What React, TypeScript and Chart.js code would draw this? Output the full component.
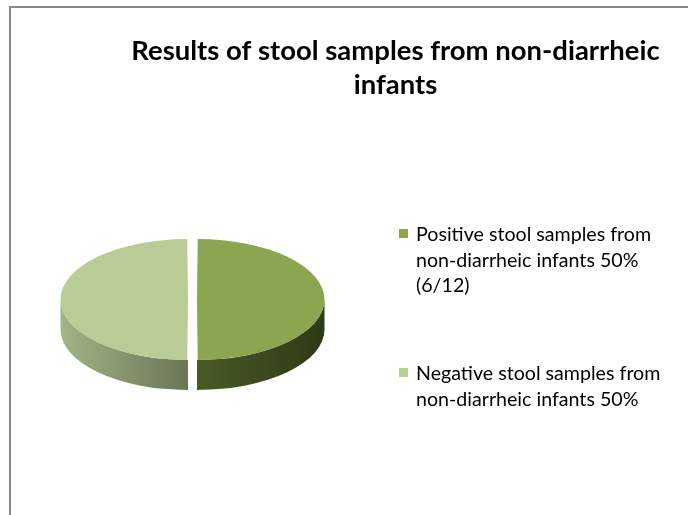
import React, { useEffect, useRef } from "react";
import { Chart, registerables } from "chart.js";

Chart.register(...registerables);

const TITLE = "Results of stool samples from non-diarrheic infants";
const CATEGORIES = [
  "Positive stool samples from non-diarrheic infants 50% (6/12)",
  "Negative stool samples from non-diarrheic infants 50%",
];
const COUNTS = [6, 6];
const TOP_COLORS = ["#8ba550", "#b9cc96"];
const WALL_COLORS = [
  ["#4a5a27", "#2e3a16"],
  ["#a3b487", "#6a7555"],
];

const FONT = "Lato, 'Open Sans', sans-serif";
const TILT = 0.4745;
const DEPTH = 30;
const PIE_CY = 299.5;

function wrap(ctx: CanvasRenderingContext2D, text: string, maxW: number): string[] {
  const words = text.split(" ");
  const lines: string[] = [];
  let cur = "";
  for (const w of words) {
    const t = cur ? cur + " " + w : w;
    if (cur && ctx.measureText(t).width > maxW) {
      lines.push(cur);
      cur = w;
    } else cur = t;
  }
  if (cur) lines.push(cur);
  return lines;
}

function fitSize(ctx: CanvasRenderingContext2D, text: string, weight: string, target: number) {
  ctx.font = `${weight} 20px ${FONT}`;
  const w = ctx.measureText(text).width;
  return (20 * target) / w;
}

const framePlugin = {
  id: "frame",
  beforeDraw(chart: any) {
    const ctx = chart.ctx as CanvasRenderingContext2D;
    ctx.save();
    ctx.fillStyle = "#ffffff";
    ctx.fillRect(0, 0, chart.width, chart.height);
    ctx.fillStyle = "#8a8a8a";
    ctx.fillRect(9, 6, chart.width - 9, 2);
    ctx.fillRect(9, 6, 2, chart.height - 6);
    ctx.restore();
  },
};

const pie3dPlugin = {
  id: "pie3d",
  beforeDatasetsDraw(chart: any) {
    const ctx = chart.ctx as CanvasRenderingContext2D;
    const meta = chart.getDatasetMeta(0);
    const cy = (chart.chartArea.top + chart.chartArea.bottom) / 2;
    meta.data.forEach((arc: any, i: number) => {
      const p = arc.getProps(["x", "y", "startAngle", "endAngle", "outerRadius", "circumference"], true);
      const off = (arc.options.offset || 0) / 4;
      const fix = 1 - Math.sin(Math.min(Math.PI, p.circumference || 0));
      const mid = (p.startAngle + p.endAngle) / 2;
      const sx = p.x + Math.cos(mid) * off;
      const sy = PIE_CY + (p.y + Math.sin(mid) * off - cy) * TILT;
      const rx = p.outerRadius + off * fix;
      const ry = rx * TILT;
      for (let k = -1; k <= 1; k++) {
        const lo = Math.max(p.startAngle, 2 * Math.PI * k);
        const hi = Math.min(p.endAngle, 2 * Math.PI * k + Math.PI);
        if (hi <= lo) continue;
        const cs = [Math.cos(lo), Math.cos(hi)];
        if (lo <= 2 * Math.PI * k + Math.PI && hi >= 2 * Math.PI * k + Math.PI) cs.push(-1);
        if (lo <= 2 * Math.PI * k && hi >= 2 * Math.PI * k) cs.push(1);
        const x0 = sx + rx * Math.min(...cs);
        const x1 = sx + rx * Math.max(...cs);
        const g = ctx.createLinearGradient(x0, 0, x1, 0);
        g.addColorStop(0, WALL_COLORS[i][0]);
        g.addColorStop(1, WALL_COLORS[i][1]);
        ctx.save();
        ctx.beginPath();
        ctx.ellipse(sx, sy, rx, ry, 0, lo, hi, false);
        ctx.ellipse(sx, sy + DEPTH, rx, ry, 0, hi, lo, true);
        ctx.closePath();
        ctx.fillStyle = g;
        ctx.fill();
        ctx.restore();
      }
    });
    ctx.save();
    ctx.translate(0, PIE_CY);
    ctx.scale(1, TILT);
    ctx.translate(0, -cy);
  },
  afterDatasetsDraw(chart: any) {
    chart.ctx.restore();
  },
};

const textPlugin = {
  id: "texts",
  afterDraw(chart: any) {
    const ctx = chart.ctx as CanvasRenderingContext2D;
    ctx.save();
    ctx.fillStyle = "#000000";
    ctx.textBaseline = "alphabetic";
    // title
    const ts = fitSize(ctx, TITLE, "bold", 619);
    ctx.font = `bold ${ts}px ${FONT}`;
    ctx.textAlign = "center";
    const tl = wrap(ctx, TITLE, 560);
    tl.forEach((l, j) => ctx.fillText(l, 395.5, 59.5 + j * 34));
    // legend
    const ls = fitSize(ctx, CATEGORIES[1], "normal", 472);
    ctx.font = `normal ${ls}px ${FONT}`;
    ctx.textAlign = "left";
    const colors = chart.data.datasets[0].backgroundColor as string[];
    const firstBase = [241, 380];
    CATEGORIES.forEach((c, i) => {
      const lines = wrap(ctx, c, 258);
      ctx.fillStyle = colors[i];
      ctx.fillRect(399, firstBase[i] - 12, 9, 9);
      ctx.fillStyle = "#000000";
      lines.forEach((l, j) => ctx.fillText(l, 416, firstBase[i] + j * 25.5));
    });
    ctx.restore();
  },
};

export default function App() {
  const ref = useRef<HTMLCanvasElement | null>(null);
  useEffect(() => {
    document.body.style.margin = "0";
    const side = 264;
    const left = 60.5;
    const top = 120;
    const chart = new Chart(ref.current as HTMLCanvasElement, {
      type: "pie",
      data: {
        labels: CATEGORIES,
        datasets: [
          {
            data: COUNTS,
            backgroundColor: TOP_COLORS,
            borderWidth: 0,
            offset: 18,
          },
        ],
      },
      options: {
        responsive: false,
        animation: false,
        events: [],
        layout: {
          padding: { left, right: 688 - left - side, top, bottom: 515 - top - side },
        },
        plugins: {
          legend: { display: false },
          title: { display: false },
          tooltip: { enabled: false },
        },
      },
      plugins: [framePlugin, pie3dPlugin, textPlugin],
    });
    return () => chart.destroy();
  }, []);
  return (
    <canvas
      ref={ref}
      width={688}
      height={515}
      style={{ display: "block", position: "fixed", left: 0, top: 0, width: 688, height: 515 }}
    />
  );
}
